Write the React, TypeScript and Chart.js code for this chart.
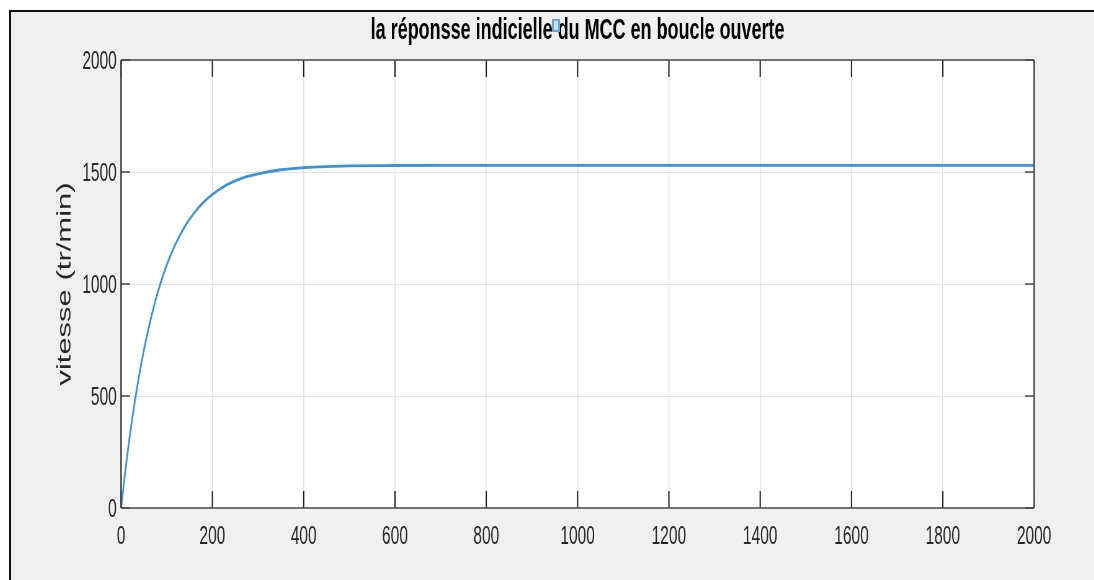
import React, { useEffect, useRef } from "react";
import { Chart, registerables } from "chart.js";

Chart.register(...registerables);

// The figure is rendered wide and squeezed horizontally by SX, like a narrowed screenshot.
const SX = 0.62;
const FRAME_W = 1083;
const FRAME_H = 568;
const FONT = "'Liberation Sans', Arial, Helvetica, sans-serif";

const TITLE = "la réponsse indicielle du MCC en boucle ouverte";
const Y_LABEL = "vitesse (tr/min)";

// open-loop step response of the DC motor
const time = [0, 10, 20, 30, 40, 50, 60, 70, 80, 100, 120, 140, 160, 180, 200, 225, 250, 275, 300, 350, 400, 450, 500, 600, 700, 800, 1000, 1200, 1400, 1600, 1800, 2000];
const speed = [0, 177, 335, 474, 597, 705, 800, 885, 961, 1085, 1182, 1258, 1317, 1364, 1400, 1435, 1460, 1479, 1492, 1510, 1519, 1524, 1527, 1529, 1530, 1530, 1530, 1530, 1530, 1530, 1530, 1530];

const xTicks = [0, 200, 400, 600, 800, 1000, 1200, 1400, 1600, 1800, 2000];
const yTicks = [0, 500, 1000, 1500, 2000];

// white axes background, inward tick marks and the dark axes box
const axesBox = {
  id: "axesBox",
  beforeDraw(chart: any) {
    const { ctx, chartArea: a } = chart;
    ctx.save();
    ctx.fillStyle = "#ffffff";
    ctx.fillRect(a.left, a.top, a.right - a.left, a.bottom - a.top);
    ctx.restore();
  },
  afterDraw(chart: any) {
    const { ctx, chartArea: a, scales } = chart;
    const seg = (x1: number, y1: number, x2: number, y2: number) => {
      ctx.beginPath();
      ctx.moveTo(x1, y1);
      ctx.lineTo(x2, y2);
      ctx.stroke();
    };
    ctx.save();
    ctx.strokeStyle = "#262626";
    ctx.lineWidth = 1.3 / SX;
    for (const t of scales.x.ticks) {
      const px = scales.x.getPixelForValue(t.value);
      seg(px, a.bottom, px, a.bottom - 17);
      seg(px, a.top, px, a.top + 17);
    }
    ctx.lineWidth = 1.3;
    for (const t of scales.y.ticks) {
      const py = scales.y.getPixelForValue(t.value);
      seg(a.left, py, a.left + 9 / SX, py);
      seg(a.right, py, a.right - 9 / SX, py);
    }
    ctx.strokeStyle = "#4a4a4a";
    ctx.lineWidth = 1.6;
    seg(a.left, a.top, a.right, a.top);
    seg(a.left, a.bottom, a.right, a.bottom);
    ctx.lineWidth = 1.6 / SX;
    seg(a.left, a.top, a.left, a.bottom);
    seg(a.right, a.top, a.right, a.bottom);
    ctx.restore();
  },
};

const plainLabel = (v: any) => String(v);

export default function App() {
  const canvasRef = useRef<HTMLCanvasElement | null>(null);

  useEffect(() => {
    if (!canvasRef.current) return;
    const chart = new Chart(canvasRef.current, {
      type: "line",
      data: {
        datasets: [
          {
            data: time.map((t, i) => ({ x: t, y: speed[i] })),
            borderColor: "#3a93d8",
            borderWidth: 2.8,
            pointRadius: 0,
            fill: false,
            cubicInterpolationMode: "monotone",
          },
        ],
      },
      options: {
        animation: false,
        responsive: true,
        maintainAspectRatio: false,
        layout: { padding: { left: 0, right: (FRAME_W - 1022.5) / SX, top: 0, bottom: 0 } },
        plugins: {
          legend: { display: false },
          tooltip: { enabled: false },
          title: {
            display: true,
            text: TITLE,
            fullSize: false,
            color: "#000000",
            font: { family: FONT, size: 29, weight: "bold", lineHeight: 1.2 },
            padding: { top: 1.6, bottom: 11.6 },
          },
        },
        scales: {
          x: {
            type: "linear",
            min: 0,
            max: 2000,
            afterBuildTicks: (s: any) => {
              s.ticks = xTicks.map((v) => ({ value: v }));
            },
            afterFit: (s: any) => {
              s.height = 72;
            },
            grid: { color: "#e2e2e2", lineWidth: 1 / SX, drawTicks: false },
            border: { display: false },
            ticks: {
              color: "#262626",
              font: { family: FONT, size: 25 },
              padding: 14,
              maxRotation: 0,
              autoSkip: false,
              callback: plainLabel,
            },
          },
          y: {
            type: "linear",
            min: 0,
            max: 2000,
            afterBuildTicks: (s: any) => {
              s.ticks = yTicks.map((v) => ({ value: v }));
            },
            afterFit: (s: any) => {
              s.width = 110 / SX;
            },
            grid: { color: "#e2e2e2", lineWidth: 1, drawTicks: false },
            border: { display: false },
            ticks: {
              color: "#262626",
              font: { family: FONT, size: 25 },
              padding: 6.9,
              labelOffset: 2,
              autoSkip: false,
              callback: plainLabel,
            },
            title: {
              display: true,
              text: Y_LABEL,
              color: "#262626",
              font: { family: FONT, size: 31 },
              padding: { top: 68.5, bottom: 0 },
            },
          },
        },
      },
      plugins: [axesBox],
    } as any);
    return () => chart.destroy();
  }, []);

  return (
    <div
      style={{
        position: "fixed",
        left: 9,
        top: 10,
        right: 0,
        bottom: 0,
        boxSizing: "border-box",
        borderLeft: "2px solid #111",
        borderTop: "2px solid #111",
        background: "#f0f0f0",
        overflow: "hidden",
      }}
    >
      <div
        style={{
          position: "absolute",
          left: 0,
          top: 0,
          width: FRAME_W / SX,
          height: FRAME_H,
          transform: `scaleX(${SX})`,
          transformOrigin: "0 0",
        }}
      >
        <canvas ref={canvasRef} />
      </div>
      <div
        style={{
          position: "absolute",
          left: 541,
          top: 7,
          width: 8,
          height: 13,
          boxSizing: "border-box",
          border: "2px solid #6aa5dc",
          background: "#c7e0f5",
        }}
      />
    </div>
  );
}
